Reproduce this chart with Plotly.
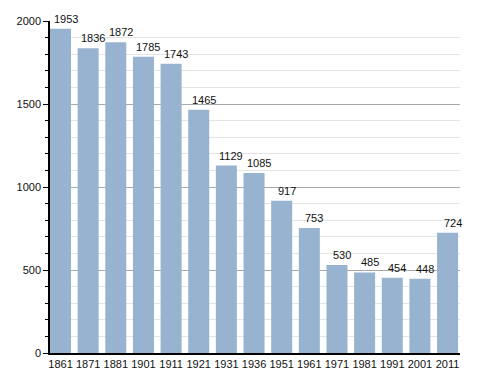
import plotly.graph_objects as go

years = ["1861", "1871", "1881", "1901", "1911", "1921", "1931", "1936",
         "1951", "1961", "1971", "1981", "1991", "2001", "2011"]
population = [1953, 1836, 1872, 1785, 1743, 1465, 1129, 1085,
              917, 753, 530, 485, 454, 448, 724]

idx = list(range(len(years)))

fig = go.Figure()
fig.add_trace(go.Bar(
    x=idx, y=population,
    marker=dict(color="#98b3cf", line=dict(width=0)),
    cliponaxis=False,
))

for i, v in zip(idx, population):
    fig.add_annotation(x=i, y=v, text=str(v), showarrow=False,
                       yanchor="bottom", xshift=5, yshift=2,
                       font=dict(family="Liberation Sans", size=11, color="#111"))

fig.update_layout(
    width=480, height=365,
    margin=dict(l=42, r=28, t=13, b=20),
    paper_bgcolor="white", plot_bgcolor="white",
    bargap=0.24,
    showlegend=False,
    font=dict(family="Liberation Sans", size=11, color="#111"),
    xaxis=dict(
        range=[-0.38, 14.45], automargin=False,
        tickvals=idx, ticktext=years,
        showline=True, linecolor="black", linewidth=1.5,
        ticks="", showgrid=False, zeroline=False,
    ),
    yaxis=dict(
        range=[0, 2000], tickvals=[0, 500, 1000, 1500, 2000],
        automargin=False,
        showline=True, linecolor="black", linewidth=1.5,
        ticks="outside", ticklen=5, tickcolor="black",
        showgrid=True, gridcolor="#a8a8a8", gridwidth=1,
        zeroline=False,
        minor=dict(dtick=100, ticks="outside", ticklen=3, tickcolor="black",
                   showgrid=True, gridcolor="#e4e4e4", gridwidth=1),
    ),
)

fig.write_html("out.html")
